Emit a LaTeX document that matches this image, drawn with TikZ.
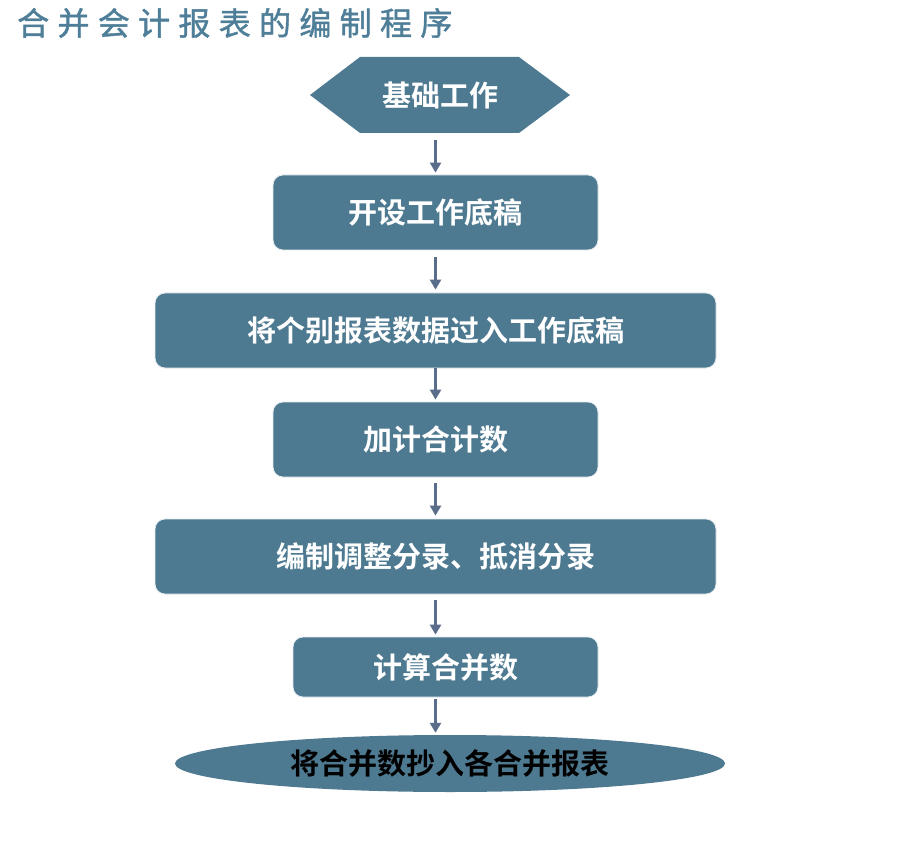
\documentclass[tikz,border=0pt]{standalone}
\usepackage{fontspec}
\setmainfont{Noto Sans CJK SC}
\newfontfamily\cjkbold{Noto Sans CJK SC Bold}
\newfontfamily\cjktitle[LetterSpace=26,FakeBold=1.3]{Noto Sans CJK SC}
\usetikzlibrary{arrows.meta,shapes.geometric}
\definecolor{boxfill}{HTML}{4E7A91}
\definecolor{arrowcol}{HTML}{5A6D8A}
\definecolor{titlecol}{HTML}{4F7E98}
\tikzset{
  x=1pt,y=-1pt,
  boxfont/.style={font=\cjkbold\fontsize{29}{33}\selectfont},
  stepbox/.style={rectangle,rounded corners=10pt,fill=boxfill,draw=white!85!boxfill,line width=0.8pt,
    text=white,boxfont,inner sep=0pt},
  flowarrow/.style={draw=arrowcol,line width=2.6pt,-{Triangle[width=11pt,length=10pt]}},
}
\begin{document}
\begin{tikzpicture}
\useasboundingbox (0,0) rectangle (913,842);
\node[anchor=west,text=titlecol,font=\cjktitle\fontsize{32}{36}\selectfont,inner sep=0pt] (title) at (17,23) {合并会计报表的编制程序};
% hexagon
\fill[boxfill] (310,95) -- (360,57) -- (519,57) -- (570,95) -- (519,133) -- (360,133) -- cycle;
\node[text=white,boxfont,minimum width=260pt,minimum height=76pt,inner sep=0pt] (hex) at (440,95) {基础工作};
\node[stepbox,minimum width=325pt,minimum height=75pt] (b2) at (435.5,212.5) {开设工作底稿};
\node[stepbox,minimum width=561pt,minimum height=75pt] (b3) at (435.5,330.5) {将个别报表数据过入工作底稿};
\node[stepbox,minimum width=325pt,minimum height=75pt] (b4) at (435.5,439.5) {加计合计数};
\node[stepbox,minimum width=561pt,minimum height=75pt] (b5) at (435.5,556.5) {编制调整分录、抵消分录};
\node[stepbox,minimum width=305pt,minimum height=60pt] (b6) at (445.5,667) {计算合并数};
\node[ellipse,fill=boxfill,minimum width=550pt,minimum height=57pt,inner sep=0pt,text=black,boxfont] (b7) at (450,763.5) {将合并数抄入各合并报表};
% arrows
\draw[flowarrow,shorten <=7pt,shorten >=2pt] (b2.north |- hex.south) -- (b2.north);
\draw[flowarrow,shorten <=7pt,shorten >=3pt] (b2.south) -- (b3.north);
\draw[flowarrow,shorten <=0pt,shorten >=2pt] (b3.south) -- (b4.north);
\draw[flowarrow,shorten <=6pt,shorten >=3pt] (b4.south) -- (b5.north);
\draw[flowarrow,shorten <=6pt,shorten >=2pt] (b5.south) -- (b5.south |- b6.north);
\draw[flowarrow,shorten <=2pt,shorten >=2pt] (b5.south |- b6.south) -- (b5.south |- b7.north);
\end{tikzpicture}
\end{document}
